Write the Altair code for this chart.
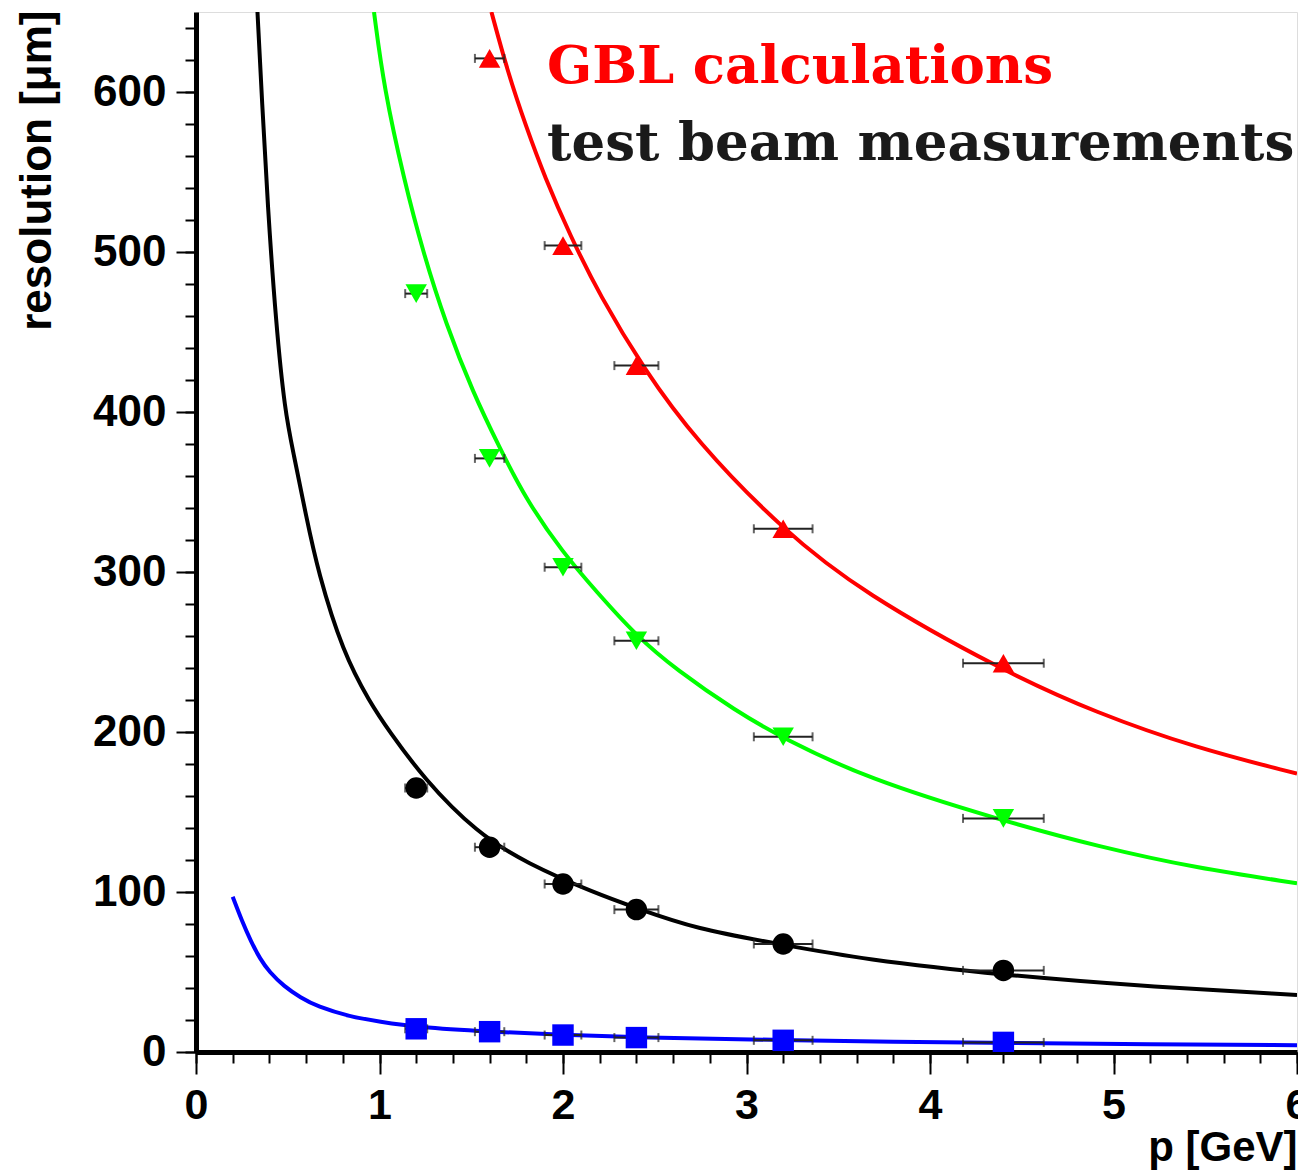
import altair as alt
import pandas as pd

# ---------------- data ----------------
SERIES = ["red", "green", "black", "blue"]
COLORS = ["#ff0000", "#00ff00", "#000000", "#0000ff"]
SHAPES = ["triangle-up", "triangle-down", "circle", "square"]

# GBL calculation curves (p [GeV], resolution [um])
red_p = [1.61, 1.70, 1.80, 1.90, 2.04, 2.20, 2.44, 2.725, 3.20, 3.633, 4.40, 4.905, 5.45, 6.00]
red_y = [650, 612, 578, 547, 510, 473, 427, 382, 326, 287, 238, 212, 190, 174]

green_p = [0.97, 1.025, 1.134, 1.237, 1.362, 1.51, 1.653, 1.80, 2.00, 2.18, 2.40, 2.616, 2.943, 3.20, 3.655, 4.38, 4.93, 5.45, 6.00]
green_y = [650, 602, 545, 500, 455, 412, 378, 345, 312, 288, 260, 239, 213, 196, 171, 145, 128, 115, 105.5]

black_p = [0.335, 0.36, 0.39, 0.436, 0.485, 0.53, 0.60, 0.665, 0.80, 0.95, 1.05, 1.24, 1.53, 1.80, 2.18, 2.40, 2.72, 3.20, 3.63, 4.40, 5.18, 6.00]
black_y = [650, 594, 530, 455, 400, 375, 335, 300, 250, 218, 201, 171, 137, 118, 99, 90, 77, 67, 58, 48, 41, 35.6]

blue_p = [0.20, 0.25, 0.30, 0.35, 0.40, 0.48, 0.57, 0.66, 0.84, 1.00, 1.20, 1.60, 2.00, 2.40, 3.20, 4.40, 5.20, 6.00]
blue_y = [97, 82, 69, 58, 50, 41, 34, 28.5, 22, 19, 15.5, 12.7, 10.6, 9.2, 7.3, 5.6, 4.8, 4.2]

# test beam measurements
meas_p = [1.2, 1.6, 2.0, 2.4, 3.2, 4.4]
meas_perr = [0.06, 0.08, 0.10, 0.12, 0.16, 0.22]
red_meas = [None, 621, 504, 429, 327, 243]
green_meas = [474, 371, 303, 257, 197, 146]
black_meas = [165, 128, 105, 89, 67.5, 51]
blue_meas = [14.5, 12.7, 10.6, 9.0, 7.3, 6.0]

x_major = [0, 1, 2, 3, 4, 5, 6]
x_minor = [round(i * 0.2, 1) for i in range(31)]
y_major = [0, 100, 200, 300, 400, 500, 600]
y_minor = list(range(0, 660, 20))

LEGEND_RED = "GBL calculations"
LEGEND_BLACK = "test beam measurements"
X_TITLE = "p [GeV]"
Y_TITLE = "resolution [μm]"

# ---------------- tables ----------------
curves = pd.concat([
    pd.DataFrame({"p": red_p, "res": red_y, "series": "red"}),
    pd.DataFrame({"p": green_p, "res": green_y, "series": "green"}),
    pd.DataFrame({"p": black_p, "res": black_y, "series": "black"}),
    pd.DataFrame({"p": blue_p, "res": blue_y, "series": "blue"}),
], ignore_index=True)

rows = []
for name, vals in zip(SERIES, [red_meas, green_meas, black_meas, blue_meas]):
    for p, e, v in zip(meas_p, meas_perr, vals):
        if v is None:
            continue
        rows.append({"p": p, "lo": p - e, "hi": p + e, "res": v, "series": name})
meas = pd.DataFrame(rows)

xs = alt.Scale(domain=[0, 6], nice=False, zero=False)
ys = alt.Scale(domain=[0, 650], nice=False, zero=False)
cscale = alt.Scale(domain=SERIES, range=COLORS)
sscale = alt.Scale(domain=SERIES, range=SHAPES)

LABEL_FONT = "Liberation Sans"

x_axis_major = alt.Axis(
    values=x_major, orient="bottom", tickSize=22, tickWidth=2, tickColor="black",
    domainColor="black", domainWidth=5, grid=False,
    labelFont=LABEL_FONT, labelFontWeight="bold", labelFontSize=43, labelColor="black",
    labelPadding=10, labelFlush=False, labelOverlap=False,
    title=X_TITLE, titleFont=LABEL_FONT, titleFontWeight="bold", titleFontSize=42,
    titleColor="black", titleX=1101, titleY=108, titleAlign="right", titleAnchor="end",
    titleBaseline="alphabetic",
)
y_axis_major = alt.Axis(
    values=y_major, orient="left", tickSize=20, tickWidth=2, tickColor="black",
    domainColor="black", domainWidth=5, grid=False,
    labelFont=LABEL_FONT, labelFontWeight="bold", labelFontSize=44, labelColor="black",
    labelPadding=10, labelFlush=False, labelOverlap=False,
    title=Y_TITLE, titleFont=LABEL_FONT, titleFontWeight="bold", titleFontSize=44,
    titleColor="black", titleX=-146, titleY=-2, titleAngle=-90, titleAlign="right",
    titleAnchor="end", titleBaseline="alphabetic",
)
x_axis_minor = alt.Axis(values=x_minor, orient="bottom", tickSize=11, tickWidth=2,
                        tickColor="black", labels=False, domain=False, grid=False, title=None)
y_axis_minor = alt.Axis(values=y_minor, orient="left", tickSize=11, tickWidth=2,
                        tickColor="black", labels=False, domain=False, grid=False, title=None)

lines = alt.Chart(curves).mark_line(strokeWidth=4, interpolate="basis", clip=True).encode(
    x=alt.X("p:Q", scale=xs, axis=x_axis_major),
    y=alt.Y("res:Q", scale=ys, axis=y_axis_major),
    color=alt.Color("series:N", scale=cscale, legend=None),
    detail="series:N",
)

errbars = alt.Chart(meas).mark_rule(strokeWidth=2, color="#222222", clip=True).encode(
    x=alt.X("lo:Q", scale=xs, axis=x_axis_minor),
    x2="hi:Q",
    y=alt.Y("res:Q", scale=ys, axis=y_axis_minor),
)

caps_lo = alt.Chart(meas).mark_tick(orient="vertical", thickness=2, size=9, color="#222222", clip=True).encode(
    x=alt.X("lo:Q", scale=xs, axis=None),
    y=alt.Y("res:Q", scale=ys, axis=None),
)
caps_hi = alt.Chart(meas).mark_tick(orient="vertical", thickness=2, size=9, color="#222222", clip=True).encode(
    x=alt.X("hi:Q", scale=xs, axis=None),
    y=alt.Y("res:Q", scale=ys, axis=None),
)

points = alt.Chart(meas).mark_point(filled=True, size=460, opacity=1, clip=True).encode(
    x=alt.X("p:Q", scale=xs, axis=None),
    y=alt.Y("res:Q", scale=ys, axis=None),
    color=alt.Color("series:N", scale=cscale, legend=None),
    shape=alt.Shape("series:N", scale=sscale, legend=None),
)

leg_df = pd.DataFrame({"t": [LEGEND_RED, LEGEND_BLACK]})
leg_red = alt.Chart(leg_df.iloc[[0]]).mark_text(
    font="DejaVu Serif", fontWeight="bold", fontSize=53, color="#ff0000",
    align="left", baseline="alphabetic",
).encode(x=alt.value(351), y=alt.value(71), text="t:N")
leg_black = alt.Chart(leg_df.iloc[[1]]).mark_text(
    font="DejaVu Serif", fontWeight="bold", fontSize=53, color="#1a1a1a",
    align="left", baseline="alphabetic",
).encode(x=alt.value(351), y=alt.value(148), text="t:N")

chart = alt.layer(
    lines, errbars, caps_lo, caps_hi, points, leg_red, leg_black
).resolve_axis(x="independent", y="independent").properties(
    width=1101, height=1040,
    autosize=alt.AutoSizeParams(type="none"),
    padding={"left": 188, "top": 4, "right": 1, "bottom": 121},
).configure_view(stroke="black", strokeWidth=5).configure(background="white")

chart.save("out.html", embed_options={"renderer": "svg", "actions": False})
